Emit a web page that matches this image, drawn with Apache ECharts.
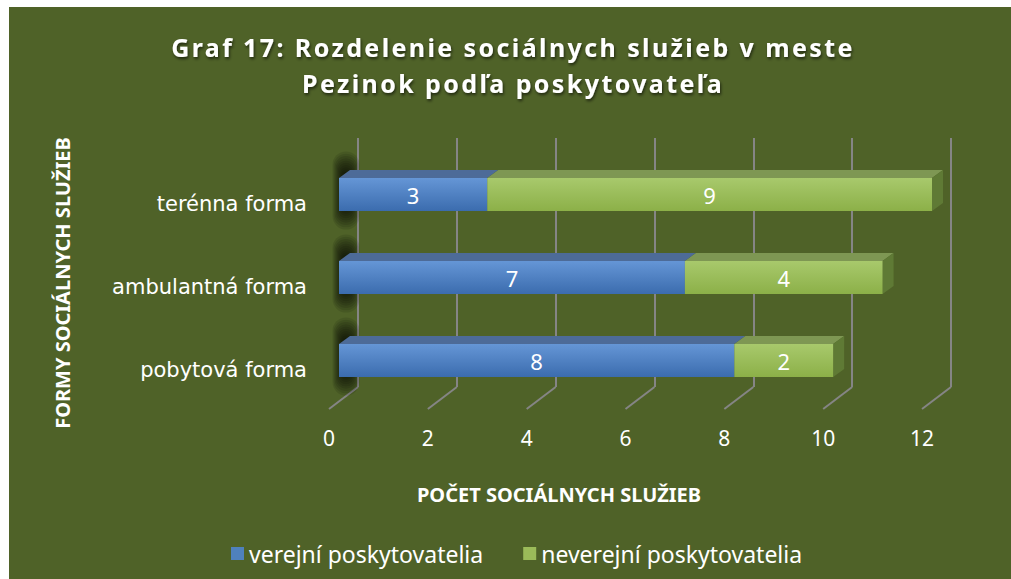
<!DOCTYPE html>
<html>
<head>
<meta charset="utf-8">
<script src="https://cdn.jsdelivr.net/npm/echarts@6/dist/echarts.min.js"></script>
<style>
html, body { margin: 0; padding: 0; background: #fff; }
#pozadie { position: absolute; left: 9px; top: 7px; width: 1002px; height: 572px; background: #4f6228; }
#main { position: absolute; left: 0; top: 0; width: 1011px; height: 579px; }
/* nadpis ma rozostupene pismena */
#main text[style*="25px"] { letter-spacing: 2.4px; }
</style>
</head>
<body>
<div id="pozadie"></div>
<div id="main"></div>
<script>
// udaje z grafu
var kategorie = ['pobytová forma', 'ambulantná forma', 'terénna forma'];
var verejni = [8, 7, 3];
var neverejni = [2, 4, 9];
var osX = [0, 2, 4, 6, 8, 10, 12];
var nazvySerii = ['verejní poskytovatelia', 'neverejní poskytovatelia'];

var hlbkaX = 11, hlbkaY = 8; // posun hornej steny stlpca

var modra = {
  predok: ['#6596d6', '#3b6cae'],
  vrch: '#4d6b98',
  bok: '#34567f',
  legenda: '#4f81bd'
};
var zelena = {
  predok: ['#a8c96c', '#8cb048'],
  vrch: '#7e9753',
  bok: '#5f7a35',
  legenda: '#9bbb59'
};

function kresliStlpec(farby, tien) {
  return function(params, api) {
    var kat = api.value(0);
    var od = api.coord([api.value(1), kat]);
    var po = api.coord([api.value(2), kat]);
    var h = api.size([0, 1])[1] * 0.4;
    var hore = od[1] - h / 2;
    var dole = od[1] + h / 2;
    var x1 = od[0];
    var x2 = po[0];
    var deti = [];
    if (tien) {
      // mekky tmavy tien na lavej strane (vela priesvitnych vrstiev)
      for (var k = 0; k < 11; k++) {
        var w = 5 + k * 2.2;
        var v = h + k * 4.5;
        deti.push({
          type: 'rect',
          shape: { x: x1 + 7 - w / 2, y: od[1] - 4 - v / 2, width: w, height: v, r: w / 2 },
          style: { fill: 'rgba(0,0,0,0.1)' }
        });
      }
    }
    // horna stena
    deti.push({
      type: 'polygon',
      shape: { points: [[x1, hore], [x1 + hlbkaX, hore - hlbkaY], [x2 + hlbkaX, hore - hlbkaY], [x2, hore]] },
      style: { fill: farby.vrch }
    });
    // bocna stena
    deti.push({
      type: 'polygon',
      shape: { points: [[x2, hore], [x2 + hlbkaX, hore - hlbkaY], [x2 + hlbkaX, dole - hlbkaY], [x2, dole]] },
      style: { fill: farby.bok }
    });
    // predna stena
    deti.push({
      type: 'rect',
      shape: { x: x1, y: hore, width: x2 - x1, height: h },
      style: {
        fill: new echarts.graphic.LinearGradient(0, 0, 0, 1, [
          { offset: 0, color: farby.predok[0] },
          { offset: 1, color: farby.predok[1] }
        ])
      }
    });
    deti.push({
      type: 'text',
      x: (x1 + x2) / 2,
      y: od[1],
      style: {
        text: String(api.value(2) - api.value(1)),
        fill: '#fff',
        font: '22px "Noto Sans"',
        align: 'center',
        verticalAlign: 'middle'
      }
    });
    return { type: 'group', children: deti };
  };
}

var dataVerejni = [];
var dataNeverejni = [];
for (var i = 0; i < kategorie.length; i++) {
  dataVerejni.push([i, 0, verejni[i]]);
  dataNeverejni.push([i, verejni[i], verejni[i] + neverejni[i]]);
}

var myChart = echarts.init(document.getElementById('main'), null, { renderer: 'svg' });
var option = {
  backgroundColor: 'transparent',
  animation: false,
  legend: {
    left: 226,
    top: 537,
    itemWidth: 13,
    itemHeight: 13,
    itemGap: 40,
    icon: 'rect',
    data: nazvySerii,
    textStyle: { color: '#fff', fontSize: 23, fontFamily: 'Noto Sans' }
  },
  grid: [
    { left: 339, right: 79, top: 153, height: 249 },
    { left: 358, right: 60, top: 138, height: 249 },
    { left: 329, right: 89, top: 138, height: 271 },
    { left: 339, right: 79, top: 162, height: 249 }
  ],
  xAxis: [
    { gridIndex: 0, type: 'value', min: 0, max: 12, interval: 2, show: false },
    {
      gridIndex: 1, type: 'value', min: 0, max: 12, interval: 2,
      axisLine: { show: false }, axisTick: { show: false }, axisLabel: { show: false },
      splitLine: { show: true, lineStyle: { color: '#858585', width: 2 } }
    },
    {
      gridIndex: 2, type: 'value', min: 0, max: 12, interval: 2,
      axisLine: { show: false }, axisTick: { show: false }, splitLine: { show: false },
      axisLabel: { color: '#fff', fontSize: 21, fontFamily: 'Noto Sans', margin: 18 }
    },
    { gridIndex: 3, type: 'value', min: 0, max: 12, interval: 2, show: false }
  ],
  yAxis: [
    { gridIndex: 0, type: 'category', data: kategorie, show: false },
    { gridIndex: 1, type: 'value', min: 0, max: 1, show: false },
    { gridIndex: 2, type: 'value', min: 0, max: 1, show: false },
    {
      gridIndex: 3, type: 'category', data: kategorie,
      axisLine: { show: false }, axisTick: { show: false }, splitLine: { show: false },
      axisLabel: { color: '#fff', fontSize: 21, fontFamily: 'DejaVu Sans', margin: 32 }
    }
  ],
  graphic: [
    {
      type: 'text', x: 513, y: 29,
      style: {
        text: 'Graf 17: Rozdelenie sociálnych služieb v meste\nPezinok podľa poskytovateľa',
        fill: '#fff', font: 'bold 25px "Noto Sans"', lineHeight: 36,
        align: 'center', verticalAlign: 'top',
        textShadowColor: 'rgba(0,0,0,0.6)', textShadowBlur: 3,
        textShadowOffsetX: 1, textShadowOffsetY: 2
      }
    },
    {
      type: 'text', x: 559, y: 494,
      style: {
        text: 'POČET SOCIÁLNYCH SLUŽIEB', fill: '#fff',
        font: 'bold 20px "Noto Sans"', align: 'center', verticalAlign: 'middle'
      }
    },
    {
      type: 'text', x: 62, y: 283, rotation: Math.PI / 2,
      style: {
        text: 'FORMY SOCIÁLNYCH SLUŽIEB', fill: '#fff',
        font: 'bold 20px "Noto Sans"', align: 'center', verticalAlign: 'middle'
      }
    }
  ],
  series: [
    {
      // podlaha - sikme ciary
      type: 'custom',
      xAxisIndex: 1,
      yAxisIndex: 1,
      silent: true,
      data: osX.map(function(v) { return [v]; }),
      encode: { x: 0 },
      renderItem: function(params, api) {
        var p = api.coord([api.value(0), 0]);
        return {
          type: 'line',
          shape: { x1: p[0], y1: p[1], x2: p[0] - 29, y2: p[1] + 22 },
          style: { stroke: '#858585', lineWidth: 2 }
        };
      }
    },
    {
      name: nazvySerii[0],
      type: 'custom',
      xAxisIndex: 0,
      yAxisIndex: 0,
      itemStyle: { color: modra.legenda },
      data: dataVerejni,
      encode: { x: [1, 2], y: 0 },
      renderItem: kresliStlpec(modra, true)
    },
    {
      name: nazvySerii[1],
      type: 'custom',
      xAxisIndex: 0,
      yAxisIndex: 0,
      itemStyle: { color: zelena.legenda },
      data: dataNeverejni,
      encode: { x: [1, 2], y: 0 },
      renderItem: kresliStlpec(zelena, false)
    }
  ]
};
myChart.setOption(option);
</script>
</body>
</html>
